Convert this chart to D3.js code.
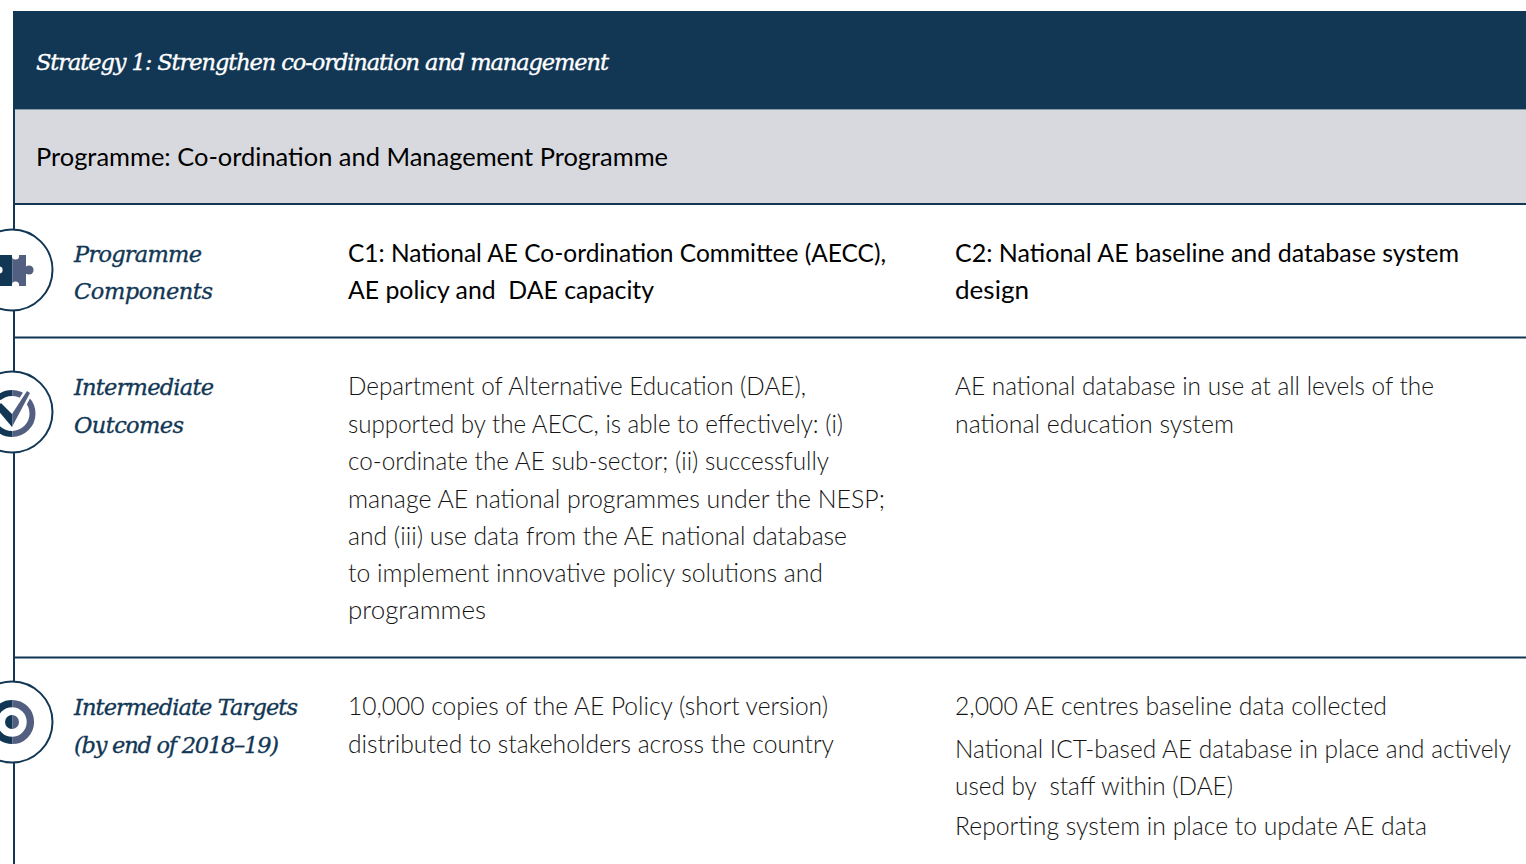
<!DOCTYPE html>
<html><head><meta charset="utf-8">
<script src="https://cdn.jsdelivr.net/npm/d3@7"></script>
<style>html,body{margin:0;padding:0;background:#fff;overflow:hidden}svg{display:block}text{white-space:pre}</style>
</head><body><svg id="c" width="1526" height="864"></svg>
<script>
const strategyTitle = "Strategy 1: Strengthen co-ordination and management";
const programmeTitle = "Programme: Co-ordination and Management Programme";
const rowLabels = [["Programme","Components"],["Intermediate","Outcomes"],["Intermediate Targets","(by end of 2018–19)"]];
const col1Lines = [
 ["C1: National AE Co-ordination Committee (AECC),","AE policy and  DAE capacity"],
 ["Department of Alternative Education (DAE),","supported by the AECC, is able to effectively: (i)","co-ordinate the AE sub-sector; (ii) successfully","manage AE national programmes under the NESP;","and (iii) use data from the AE national database","to implement innovative policy solutions and","programmes"],
 ["10,000 copies of the AE Policy (short version)","distributed to stakeholders across the country"]];
const col2Lines = [
 ["C2: National AE baseline and database system","design"],
 ["AE national database in use at all levels of the","national education system"],
 ["2,000 AE centres baseline data collected","National ICT-based AE database in place and actively","used by  staff within (DAE)","Reporting system in place to update AE data"]];

// layout (separate from content)
const labelEnds=[[202,213],[214,184],[298,279]];
const col1Ends=[[886,654],[806,843,829,885,847,823,486],[828,834]];
const col2Ends=[[1459,1029],[1434,1234],[1387,1511,1233,1427]];
const labelBase=[[261.5,298.5],[395,432.5],[715,752.5]];
const col1Base=[[262,299],[395,433,470,507.5,545,582,619],[715,753]];
const col2Base=[[262,299],[395,433],[715,757.5,794.5,835]];

const NAVY="#123755", GREY="#d8d9de", ICON2="#525f80", BODY="#141414";
const svg=d3.select("#c");
const sans="Lato, 'Open Sans', sans-serif", serif="'DejaVu Serif', serif";

const defs=svg.append("defs");
defs.append("clipPath").attr("id","lh").append("rect").attr("x",-60).attr("y",0).attr("width",72.5).attr("height",864);
defs.append("clipPath").attr("id","rh").append("rect").attr("x",12.5).attr("y",0).attr("width",72).attr("height",864);

svg.append("rect").attr("x",13).attr("y",11).attr("width",1513).attr("height",98.5).attr("fill",NAVY);
svg.append("rect").attr("x",15).attr("y",110).attr("width",1511).attr("height",93).attr("fill",GREY);
svg.append("line").attr("x1",14).attr("x2",14).attr("y1",109).attr("y2",864).attr("stroke",NAVY).attr("stroke-width",2);

const rowTop=[204,337.5,657.5], circleY=[270,412,722];
svg.selectAll("line.r").data(rowTop).join("line").attr("class","r")
 .attr("x1",14).attr("x2",1526).attr("y1",d=>d).attr("y2",d=>d).attr("stroke",NAVY).attr("stroke-width",2);

function put(sel,x0,end,fs,family,style,weight,fill,extra,adjust){
  const t=sel.attr("x",x0).attr("fill",fill).attr("font-family",family).attr("font-size",fs)
   .attr("font-style",style).attr("font-weight",weight)
   .attr("textLength",end-x0).attr("lengthAdjust",adjust||"spacingAndGlyphs");
  if(extra){t.attr("stroke",fill).attr("stroke-width",extra);}
}
put(svg.append("text").attr("y",69.5).text(strategyTitle),36,609,22.5,serif,"italic",400,"#fff",0.35,"spacing");
put(svg.append("text").attr("y",166).text(programmeTitle),36,668,25.4,sans,"normal",400,"#000");

rowLabels.forEach((ls,r)=>ls.forEach((d,i)=>{
  put(svg.append("text").attr("y",labelBase[r][i]).text(d),74,labelEnds[r][i],22.5,serif,"italic",400,NAVY,0.35,"spacing");
}));
function col(lines,x,ends,base){
 lines.forEach((ls,r)=>ls.forEach((d,i)=>{
  put(svg.append("text").attr("y",base[r][i]).text(d),x,ends[r][i],25,sans,"normal",r==0?400:300,r==0?"#000":BODY);
 }));
}
col(col1Lines,348,col1Ends,col1Base);col(col2Lines,955,col2Ends,col2Base);

svg.selectAll("circle.o").data(circleY).join("circle").attr("class","o").attr("cx",12).attr("cy",d=>d).attr("r",40.5)
 .attr("fill","#fff").attr("stroke",NAVY).attr("stroke-width",2);

// icons: same shape twice, clipped into dark and light halves
const halves=[["lh",NAVY],["rh",ICON2]];
halves.forEach(([clip,c])=>{
  const g=svg.append("g").attr("clip-path",`url(#${clip})`);
  g.append("rect").attr("x",-2).attr("y",255).attr("width",28).attr("height",31).attr("fill",c);
  g.append("circle").attr("cx",29).attr("cy",270).attr("r",4.6).attr("fill",c);
  g.append("circle").attr("cx",12).attr("cy",413.5).attr("r",20.5).attr("fill","none").attr("stroke",c).attr("stroke-width",6);
  g.append("circle").attr("cx",12).attr("cy",722).attr("r",18.4).attr("fill","none").attr("stroke",c).attr("stroke-width",7.4);
  g.append("circle").attr("cx",12).attr("cy",722).attr("r",7).attr("fill",c);
});
[[15.5,256,3.6],[15.5,285,3.6],[-1,270,3.6]].forEach(([x,y,r])=>svg.append("circle").attr("cx",x).attr("cy",y).attr("r",r).attr("fill","#fff"));
svg.append("rect").attr("x",26).attr("y",268).attr("width",1).attr("height",4).attr("fill",ICON2);
const check="M-4,408 L1,403 L12,414 L27,391 L30,393 L12,427 Z";
svg.append("path").attr("d",check).attr("fill","#fff").attr("stroke","#fff").attr("stroke-width",5);
halves.forEach(([clip,c])=>svg.append("g").attr("clip-path",`url(#${clip})`).append("path").attr("d",check).attr("fill",c));
</script></body></html>
